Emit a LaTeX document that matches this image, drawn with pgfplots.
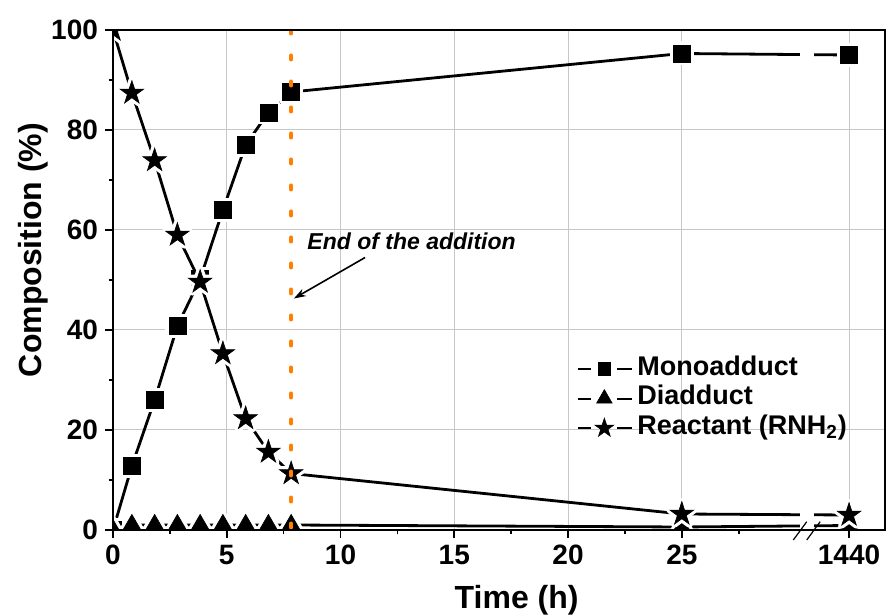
\documentclass[border=0pt]{standalone}
\usepackage{fontspec}
\setmainfont{Liberation Sans}
\usepackage{pgfplots}
\usepackage{pgfplotstable}
\pgfplotsset{compat=1.18}
\usetikzlibrary{arrows.meta}
\definecolor{dotorange}{RGB}{255,128,0}

% filled five-pointed star
\pgfdeclareplotmark{fstar}{%
  \pgfpathmoveto{\pgfpointpolar{90}{\pgfplotmarksize}}%
  \pgfpathlineto{\pgfpointpolar{126}{0.382*\pgfplotmarksize}}%
  \pgfpathlineto{\pgfpointpolar{162}{\pgfplotmarksize}}%
  \pgfpathlineto{\pgfpointpolar{198}{0.382*\pgfplotmarksize}}%
  \pgfpathlineto{\pgfpointpolar{234}{\pgfplotmarksize}}%
  \pgfpathlineto{\pgfpointpolar{270}{0.382*\pgfplotmarksize}}%
  \pgfpathlineto{\pgfpointpolar{306}{\pgfplotmarksize}}%
  \pgfpathlineto{\pgfpointpolar{342}{0.382*\pgfplotmarksize}}%
  \pgfpathlineto{\pgfpointpolar{18}{\pgfplotmarksize}}%
  \pgfpathlineto{\pgfpointpolar{54}{0.382*\pgfplotmarksize}}%
  \pgfpathclose
  \pgfusepathqfillstroke}

% time (h); 1440 h is placed at 32.35 after the axis break
\pgfplotstableread{
t y
0 0
0.83 12.8
1.83 26.0
2.83 40.8
3.83 50.2
4.83 64.0
5.83 77.0
6.83 83.5
7.83 87.6
25 95.3
32.35 95.0
}\mono
\pgfplotstableread{
t y
0 0
0.83 1.0
1.83 1.0
2.83 1.0
3.83 1.0
4.83 1.0
5.83 1.0
6.83 1.0
7.83 1.0
25 0.6
32.35 0.9
}\dia
\pgfplotstableread{
t y
0 100
0.83 87.4
1.83 73.9
2.83 59.0
3.83 49.6
4.83 35.3
5.83 22.3
6.83 15.6
7.83 11.3
25 3.2
32.35 3.0
}\reac

\pgfplotsset{
  leg/.style n args={2}{legend image code/.code={%
    \draw[black, line width=1pt] (0pt,0pt) -- (6.5pt,0pt);
    \draw[black, line width=1pt] (19.5pt,0pt) -- (27pt,0pt);
    \draw[black, fill=black, line width=0.3pt] plot[only marks, mark=#1, mark size=#2] coordinates {(13pt,0pt)};
  }},
  serline/.style={forget plot, black, line width=1.4pt, no marks},
  halo/.style={forget plot, only marks, mark options={draw=white, fill=white, line width=3.5pt, line join=round}},
  blk/.style={only marks, mark options={draw=black, fill=black, line width=0.3pt}},
}

\begin{document}
\begin{tikzpicture}[font=\bfseries]
\begin{axis}[
  scale only axis, width=386pt, height=250pt,
  xmin=0, xmax=33.93, ymin=0, ymax=100,
  xtick={0,5,10,15,20,25,32.35},
  xticklabels={0,5,10,15,20,25,1440},
  minor xtick={2.5,7.5,12.5,17.5,22.5,27.5},
  ytick={0,20,...,100},
  minor ytick={10,30,50,70,90},
  tick align=outside, tick pos=left,
  major tick length=4pt, minor tick length=2pt,
  tick style={black, line width=0.8pt},
  grid=major, major grid style={black!22, line width=0.5pt},
  axis line style={line width=0.6pt},
  clip marker paths=true,
  ticklabel style={font=\fontsize{14}{16}\selectfont\bfseries},
  /pgf/number format/assume math mode=true,
  xlabel={Time (h)}, ylabel={Composition (\%)},
  label style={font=\fontsize{16}{18}\selectfont\bfseries},
  xlabel style={at={(axis cs:17.74,-15.6)}, anchor=base},
  ylabel style={at={(axis cs:-3.16,56)}, anchor=base},
  legend cell align=left,
  legend style={at={(axis description cs:0.601,0.352)}, anchor=north west,
    draw=none, fill=none, inner sep=0pt, row sep=0pt, column sep=2pt,
    font=\fontsize{13.5}{14.75}\selectfont\bfseries,
    nodes={inner sep=0pt, text height=10.5pt, text depth=4.25pt}},
]
% Monoadduct
\addplot[serline] table {\mono};
\addplot[halo, mark=square*, mark size=4.25pt] table {\mono};
\addplot[blk, mark=square*, mark size=4.25pt, leg={square*}{3.2pt}] table {\mono};
\addlegendentry{Monoadduct}
% Diadduct
\addplot[serline] table {\dia};
\addplot[halo, mark=triangle*, mark size=5.3pt] table {\dia};
\addplot[blk, mark=triangle*, mark size=5.3pt, leg={triangle*}{4.5pt}] table {\dia};
\addlegendentry{Diadduct}
% Reactant
\addplot[serline] table {\reac};
\addplot[halo, mark=fstar, mark size=6.2pt] table {\reac};
\addplot[blk, mark=fstar, mark size=6.2pt, leg={fstar}{5pt}] table {\reac};
\addlegendentry{Reactant (RNH\textsubscript{2})}

% gap in the series at the axis break
\fill[white] (axis cs:30.2,0.25) rectangle (axis cs:30.8,5.5);
\fill[white] (axis cs:30.2,92) rectangle (axis cs:30.8,98);

% end of the addition
\draw[dotorange, line width=2pt, line cap=round, dash pattern=on 2pt off 11pt]
  (axis cs:7.83,0.5) -- (axis cs:7.83,100);
\draw[-{Stealth[length=6pt,width=4pt]}, line width=0.8pt]
  (axis cs:11.08,54.5) -- (axis cs:7.95,46.3);
\node[anchor=west, inner sep=0pt, font=\fontsize{11.5}{13}\selectfont\bfseries\itshape]
  at (axis cs:8.53,57.8) {End of the addition};

\coordinate (SW) at (rel axis cs:0,0);
\coordinate (NE) at (rel axis cs:1,1);
\coordinate (NW) at (rel axis cs:0,1);
\coordinate (SE) at (rel axis cs:1,0);
\coordinate (Sa) at (axis cs:29.9,-2);
\coordinate (Sb) at (axis cs:30.49,1.66);
\coordinate (Sc) at (axis cs:30.49,-2);
\coordinate (Sd) at (axis cs:31.08,1.66);
\end{axis}
\draw[line width=1.1pt, line cap=rect] (SE) -- (SW) -- (NW) -- (NE);
\draw[line width=0.6pt] (Sa) -- (Sb) (Sc) -- (Sd);
\path (SW) ++(-56.5pt,-42.5pt) coordinate (B1);
\path (NE) ++(1pt,15pt) coordinate (B2);
\pgfresetboundingbox
\useasboundingbox (B1) rectangle (B2);
\end{tikzpicture}
\end{document}
